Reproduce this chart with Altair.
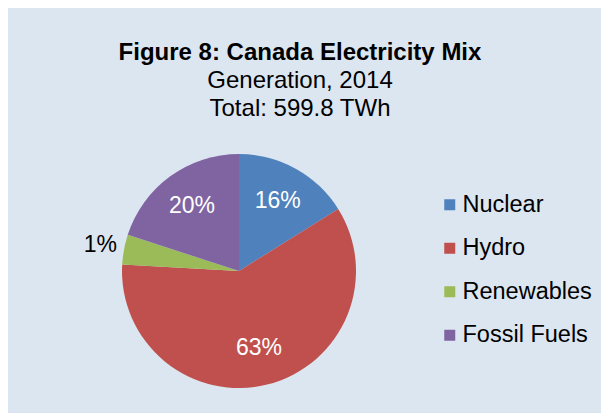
import altair as alt
import pandas as pd

sources = ["Nuclear", "Hydro", "Renewables", "Fossil Fuels"]
shares = [16.1, 59.8, 4.1, 20.0]
labels = ["16%", "63%", "1%", "20%"]
slice_order = [0, 1, 2, 3]
colors = ["#4f81bd", "#c0504d", "#9bbb59", "#8064a2"]

df = pd.DataFrame({"source": sources, "share": shares, "label": labels, "ord": slice_order})

FONT = "Liberation Sans"

base = alt.Chart(df).encode(
    theta=alt.Theta("share:Q", stack=True),
    order=alt.Order("ord:Q"),
)

pie = base.mark_arc(outerRadius=117, strokeWidth=0).encode(
    color=alt.Color(
        "source:N",
        scale=alt.Scale(domain=sources, range=colors),
        legend=alt.Legend(
            title=None, orient="none", legendX=430, legendY=39,
            symbolType="square", symbolSize=121, symbolStrokeWidth=0,
            labelFontSize=23.5, labelFont=FONT, labelColor="black",
            rowPadding=18.5, labelOffset=1, padding=0,
        ),
    )
)

inner = base.mark_text(radius=80, fontSize=23, font=FONT, color="white").encode(
    text=alt.condition(alt.datum.source != "Renewables", alt.Text("label:N"), alt.value(""))
)
outer = base.mark_text(radius=141, fontSize=23, font=FONT, color="black").encode(
    text=alt.condition(alt.datum.source == "Renewables", alt.Text("label:N"), alt.value(""))
)

chart = alt.layer(pie, inner, outer).properties(
    width=462,
    height=234,
    background="#dce6f1",
    autosize=alt.AutoSizeParams(type="none"),
    padding={"left": 0, "top": 146, "right": 131, "bottom": 25},
    title=alt.TitleParams(
        text="Figure 8: Canada Electricity Mix",
        subtitle=["Generation, 2014", "Total: 599.8 TWh"],
        font=FONT, fontSize=24, fontWeight="bold", color="black",
        subtitleFont=FONT, subtitleFontSize=24, subtitleColor="black",
        subtitlePadding=4, subtitleLineHeight=28,
        anchor="middle", dx=61, offset=16,
    ),
).configure_view(stroke=None)

chart.save("out.html", embed_options={"renderer": "svg", "actions": False})
